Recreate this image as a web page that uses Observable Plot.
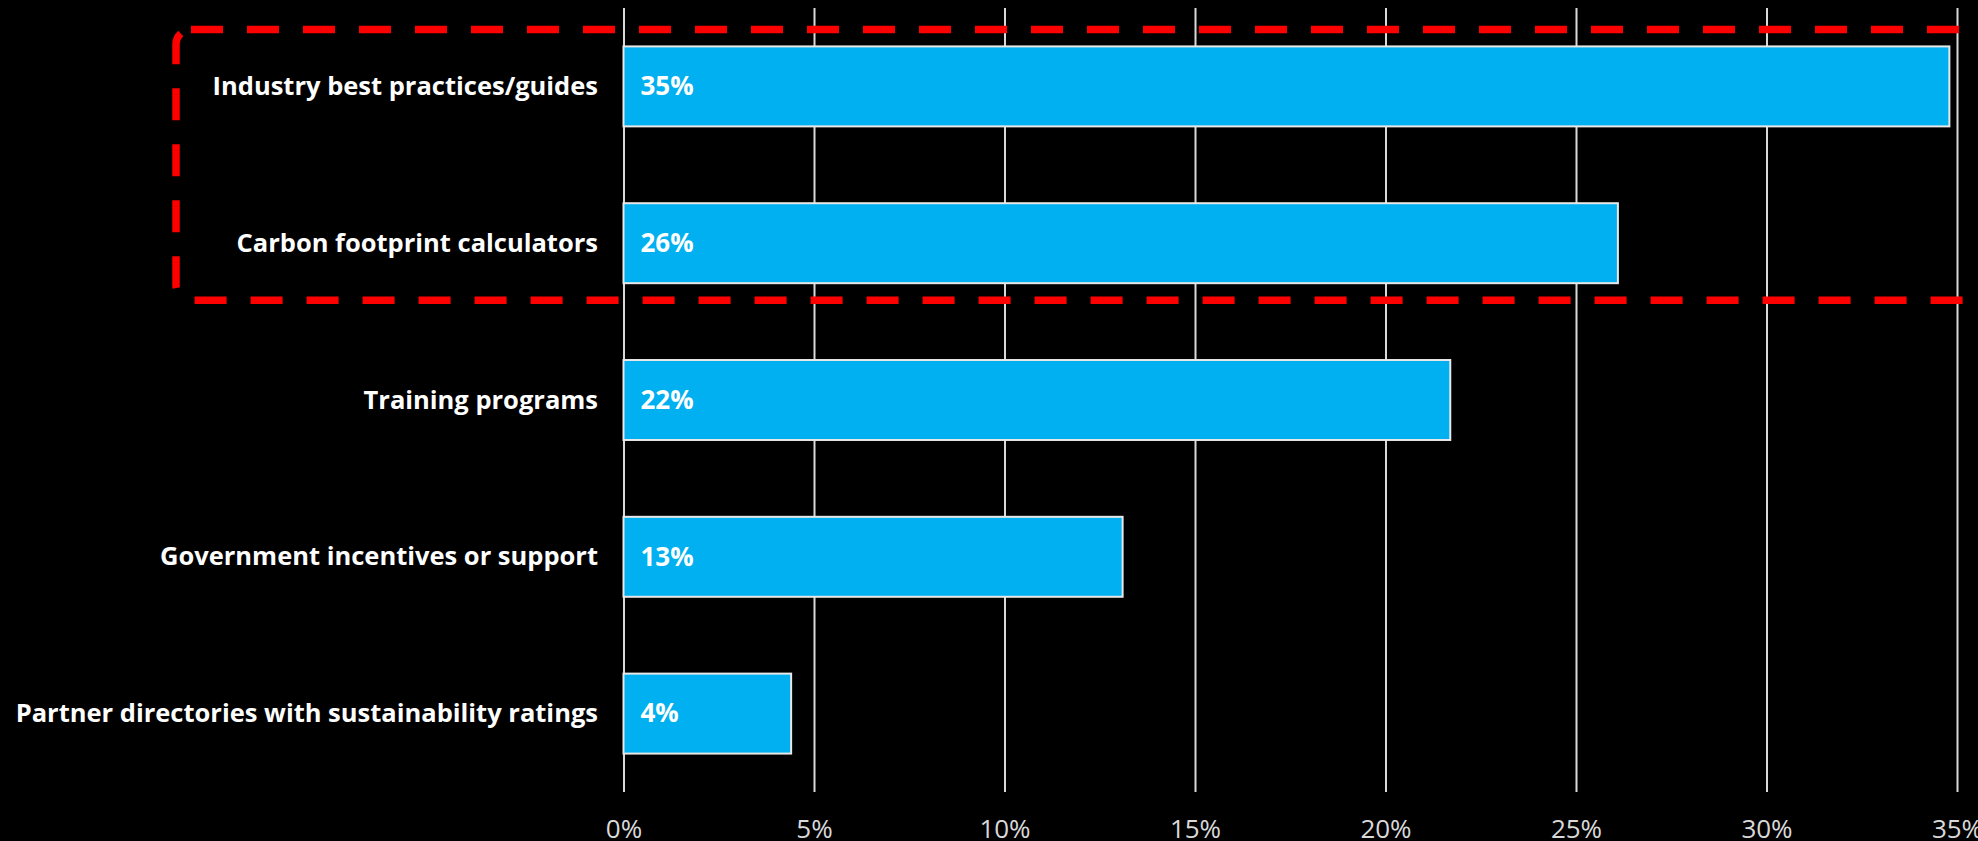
<!DOCTYPE html>
<html>
<head>
<meta charset="utf-8">
<script src="https://cdn.jsdelivr.net/npm/d3@7"></script>
<script src="https://cdn.jsdelivr.net/npm/@observablehq/plot@0.6"></script>
<style>
  html, body { margin: 0; padding: 0; background: #000; }
  #chart { width: 1978px; height: 841px; overflow: hidden; }
</style>
</head>
<body>
<div id="chart"></div>
<script>
const categories = [
  "Industry best practices/guides",
  "Carbon footprint calculators",
  "Training programs",
  "Government incentives or support",
  "Partner directories with sustainability ratings"
];
const values = [34.8, 26.1, 21.7, 13.1, 4.4];
const valueLabels = ["35%", "26%", "22%", "13%", "4%"];
const xTicks = [0, 5, 10, 15, 20, 25, 30, 35];
const highlighted = ["Industry best practices/guides", "Carbon footprint calculators"];

const data = categories.map((c, i) => ({category: c, value: values[i], label: valueLabels[i]}));

const W = 1978, H = 841;
const plot = Plot.plot({
  width: W,
  height: H,
  marginTop: 8,
  marginBottom: 49,
  marginLeft: 623.5,
  marginRight: 21,
  style: {background: "#000", fontFamily: "'Open Sans', sans-serif", fontSize: "26px", color: "#d9d9d9"},
  x: {domain: [0, 35], ticks: xTicks},
  y: {domain: categories, paddingInner: 0.49, paddingOuter: 0.245, round: false},
  marks: [
    Plot.gridX(xTicks, {stroke: "#d9d9d9", strokeOpacity: 1, strokeWidth: 2}),
    Plot.axisX(xTicks, {tickSize: 0, tickPadding: 27, tickFormat: d => d + "%", fill: "#d9d9d9", fontSize: 26, label: null}),
    Plot.axisY({tickSize: 0, tickPadding: 26, fill: "#ffffff", fontWeight: "bold", fontSize: 25.5, label: null}),
    Plot.barX(data, {x: "value", y: "category", fill: "#00b0f0", stroke: "#e8e8e8", strokeWidth: 2}),
    Plot.text(data, {x: 0, y: "category", text: "label", dx: 16.5, textAnchor: "start", fill: "#ffffff", fontWeight: "bold", fontSize: 26})
  ]
});
document.getElementById("chart").append(plot);

// Red dashed highlight around the first two categories, positioned from the y scale
const yScale = plot.scale("y");
const hlTop = yScale.apply(highlighted[0]) - 17;
const hlBottom = yScale.apply(highlighted[highlighted.length - 1]) + yScale.bandwidth + 17;
d3.select(plot).append("rect")
  .attr("x", 176)
  .attr("y", hlTop)
  .attr("width", W + 6 - 176)
  .attr("height", hlBottom - hlTop)
  .attr("rx", 15)
  .attr("fill", "none")
  .attr("stroke", "#ff0000")
  .attr("stroke-width", 7.5)
  .attr("stroke-dasharray", "32 24");
</script>
</body>
</html>
